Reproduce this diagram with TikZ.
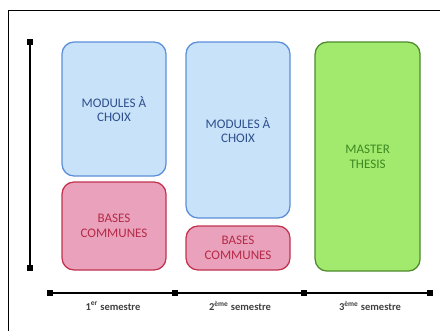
\documentclass[tikz,border=0pt]{standalone}
\usepackage{fontspec}
\setmainfont{Carlito}
\usepackage{xcolor}
\usepackage{tikz}
\usetikzlibrary{positioning,calc,shapes}
\definecolor{modfill}{HTML}{C8E2FA}
\definecolor{moddraw}{HTML}{5A8ED8}
\definecolor{modtext}{HTML}{2E4F8C}
\definecolor{basfill}{HTML}{EAA2BC}
\definecolor{basdraw}{HTML}{C23250}
\definecolor{bastext}{HTML}{B52A48}
\definecolor{thsfill}{HTML}{A2EA6E}
\definecolor{thsdraw}{HTML}{4F8A2C}
\definecolor{thstext}{HTML}{3E8A22}
\tikzset{
    % basic box style
    sbox/.style = {draw, rounded corners=0.3cm, line width=0.9pt, align=center, inner sep=1mm, font=\fontsize{9.3}{10.5}\selectfont},
    % elective modules (blue)
    modbox/.style = {sbox, fill=modfill, draw=moddraw, text=modtext},
    % common bases (red)
    basbox/.style = {sbox, fill=basfill, draw=basdraw, text=bastext},
    % thesis (green)
    thsbox/.style = {sbox, fill=thsfill, draw=thsdraw, text=thstext},
    % axis end points (small squares)
    adot/.style = {fill=black, rectangle, inner sep=0, minimum size=1.6mm},
    % axis lines
    aline/.style = {line width=1.6pt},
    % semester labels
    slabel/.style = {font=\fontsize{7.5}{8}\selectfont\bfseries, text=black!75}
  }
\begin{document}
\begin{tikzpicture}
\useasboundingbox (0,0) rectangle (11,8.275);

% frame
\draw[line width=0.6pt] (0.2,0) -- (0.2,8.025) -- (11,8.025);

% boxes
\node [modbox, minimum width=2.6cm, minimum height=3.35cm] (mod1) at (2.85,5.55) {MODULES À\\CHOIX};
\node [basbox, minimum width=2.6cm, minimum height=2.2cm] (bas1) at (2.85,2.625) {BASES\\COMMUNES};
\node [modbox, minimum width=2.6cm, minimum height=4.4cm] (mod2) at (5.95,5.025) {MODULES À\\CHOIX};
\node [basbox, minimum width=2.6cm, minimum height=1.1cm] (bas2) at (5.95,2.075) {BASES\\COMMUNES};
\node [thsbox, minimum width=2.625cm, minimum height=5.725cm] (ths) at (9.19,4.36) {MASTER\\THESIS};

% vertical axis
\node [adot] (V1) at (0.75,7.225) {};
\node [adot] (V2) at (0.75,1.575) {};
\draw [aline] (V1) -- (V2);

% horizontal axis
\foreach \i/\x in {H0/1.25,H1/4.375,H2/7.6,H3/10.75}
  \node [adot] (\i) at (\x,0.95) {};
\draw [aline] (H0) -- (H1) -- (H2) -- (H3);

\foreach \i/\x/\sem in {S1/2.825/1\textsuperscript{er} semestre,S2/6/2\textsuperscript{ème} semestre,S3/9.25/3\textsuperscript{ème} semestre}
  \node [slabel] (\i) at (\x,0.62) {\sem};

\end{tikzpicture}
\end{document}
